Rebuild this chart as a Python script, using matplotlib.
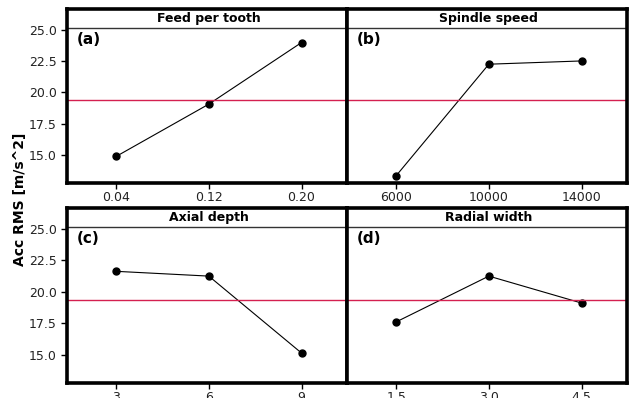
import matplotlib.pyplot as plt

# main effects data
titles = ["Feed per tooth", "Spindle speed", "Axial depth", "Radial width"]
tags = ["(a)", "(b)", "(c)", "(d)"]
xlabels = [["0.04", "0.12", "0.20"],
           ["6000", "10000", "14000"],
           ["3", "6", "9"],
           ["1.5", "3.0", "4.5"]]
means = [[14.87, 19.05, 23.97],
         [13.33, 22.24, 22.50],
         [21.62, 21.24, 15.13],
         [17.60, 21.24, 19.10]]
grand_mean = 19.38
yticks = [15.0, 17.5, 20.0, 22.5, 25.0]

fig = plt.figure(figsize=(6.33, 3.98), dpi=100)

# axes boxes in figure fraction (left, bottom, width, height)
boxes = [(0.1058, 0.5402, 0.4423, 0.4372),
         (0.5482, 0.5402, 0.4423, 0.4372),
         (0.1058, 0.0377, 0.4423, 0.4397),
         (0.5482, 0.0377, 0.4423, 0.4397)]

strip = 25.15
ytop = 26.65
for i in range(4):
    ax = fig.add_axes(boxes[i])
    xs = [1, 2, 3]
    ax.plot(xs, means[i], color='black', linewidth=0.8, marker='o', markersize=5)
    ax.axhline(grand_mean, color='#d42050', linewidth=1.0)
    ax.axhline(strip, color='#333333', linewidth=1.0)
    ax.set_xlim(0.47, 3.49)
    ax.set_ylim(12.75, ytop)
    ax.set_xticks(xs)
    ax.set_xticklabels(xlabels[i], fontsize=9, color='#222222')
    ax.set_yticks(yticks)
    if i % 2 == 0:
        ax.set_yticklabels(["%.1f" % v for v in yticks], fontsize=9, color='#222222')
        ax.tick_params(axis='y', direction='out', length=4, width=1)
    else:
        ax.tick_params(axis='y', left=False, labelleft=False)
    ax.tick_params(axis='x', direction='out', length=4, width=1, pad=2)
    for s in ax.spines.values():
        s.set_linewidth(2.6)
        s.set_color('black')
    ax.text(2, (strip + ytop) / 2, titles[i], ha='center', va='center',
            fontsize=9, fontweight='bold')
    ax.text(0.58, 24.85, tags[i], ha='left', va='top', fontsize=11, fontweight='bold')

fig.text(0.032, 0.5, "Acc RMS [m/s^2]", rotation=90, ha='center', va='center',
         fontsize=10, fontweight='bold')

fig.savefig("out.png", dpi=100)
